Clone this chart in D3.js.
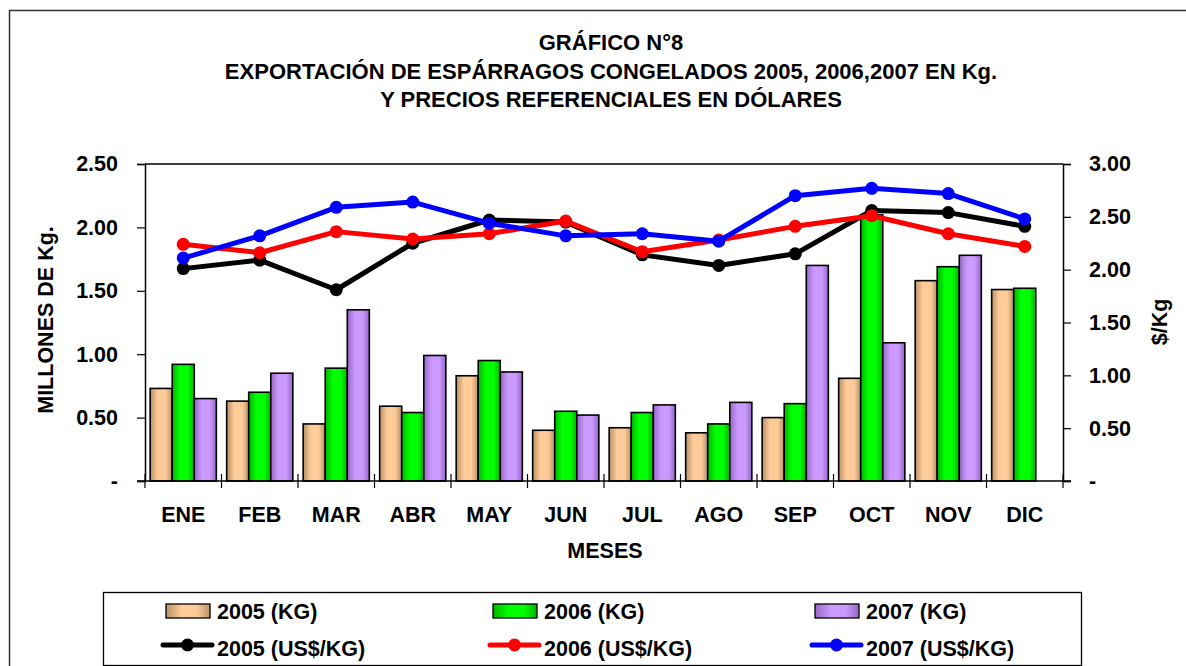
<!DOCTYPE html>
<html>
<head>
<meta charset="utf-8">
<script src="https://cdn.jsdelivr.net/npm/d3@7"></script>
<style>
body { margin: 0; background: #fff; }
text { font-family: "Liberation Sans", Arial, sans-serif; font-weight: bold; fill: #000; }
</style>
</head>
<body>
<svg id="chart"></svg>
<script>
var months = ["ENE","FEB","MAR","ABR","MAY","JUN","JUL","AGO","SEP","OCT","NOV","DIC"];
var kg2005 = [0.73,0.63,0.45,0.59,0.83,0.40,0.42,0.38,0.50,0.81,1.58,1.51];
var kg2006 = [0.92,0.70,0.89,0.54,0.95,0.55,0.54,0.45,0.61,2.10,1.69,1.52];
var kg2007 = [0.65,0.85,1.35,0.99,0.86,0.52,0.60,0.62,1.70,1.09,1.78,null];
var usd2005 = [2.01,2.09,1.81,2.25,2.47,2.45,2.14,2.04,2.15,2.56,2.54,2.41];
var usd2006 = [2.24,2.16,2.36,2.29,2.34,2.46,2.17,2.28,2.41,2.51,2.34,2.22];
var usd2007 = [2.11,2.32,2.59,2.64,2.44,2.32,2.34,2.27,2.70,2.77,2.72,2.48];
var leftTicks = [0,0.5,1,1.5,2,2.5];
var rightTicks = [0,0.5,1,1.5,2,2.5,3];
var titleLines = ["GRÁFICO N°8",
  "EXPORTACIÓN DE ESPÁRRAGOS CONGELADOS 2005, 2006,2007 EN Kg.",
  "Y PRECIOS REFERENCIALES EN DÓLARES"];

var barSeries = [
  {name:"2005 (KG)", values:kg2005, grad:"g2005", dark:"#b89068", light:"#ffcc99"},
  {name:"2006 (KG)", values:kg2006, grad:"g2006", dark:"#00b400", light:"#00ff00"},
  {name:"2007 (KG)", values:kg2007, grad:"g2007", dark:"#9468c4", light:"#cc99ff"}
];
var lineSeries = [
  {name:"2005 (US$/KG)", values:usd2005, color:"#000000"},
  {name:"2006 (US$/KG)", values:usd2006, color:"#ff0000"},
  {name:"2007 (US$/KG)", values:usd2007, color:"#0000ff"}
];

var width = 1186, height = 666;
var pLeft = 145, pRight = 1063, pTop = 164, pBottom = 481;
var fs = "21.5px";

var svg = d3.select("#chart").attr("width", width).attr("height", height);

var defs = svg.append("defs");
barSeries.forEach(function(s){
  var g = defs.append("linearGradient").attr("id", s.grad)
    .attr("x1","0%").attr("x2","100%").attr("y1","0%").attr("y2","0%");
  g.append("stop").attr("offset","0%").attr("stop-color", s.dark);
  g.append("stop").attr("offset","35%").attr("stop-color", s.light);
  g.append("stop").attr("offset","70%").attr("stop-color", s.light);
  g.append("stop").attr("offset","100%").attr("stop-color", s.dark);
});

// outer border
svg.append("rect").attr("x", 9.5).attr("y", 10.5).attr("width", 1300).attr("height", 800)
  .attr("fill","none").attr("stroke","#333").attr("stroke-width",1.5);

// titles
svg.selectAll("text.title").data(titleLines).enter().append("text")
  .attr("class","title")
  .attr("x", 611)
  .attr("y", function(d,i){ return 50 + i*28.5; })
  .attr("text-anchor","middle")
  .style("font-size","22px")
  .text(function(d){ return d; });

var x = d3.scaleBand().domain(months).range([pLeft, pRight]).paddingInner(0.135).paddingOuter(0.0675);
var xc = d3.scaleBand().domain(months).range([pLeft, pRight]);
var xs = d3.scaleBand().domain([0,1,2]).range([0, x.bandwidth()]);
var yL = d3.scaleLinear().domain([0,2.5]).range([pBottom, pTop]);
var yR = d3.scaleLinear().domain([0,3]).range([pBottom, pTop]);

// plot frame top line
svg.append("line").attr("x1", pLeft).attr("x2", pRight).attr("y1", pTop).attr("y2", pTop)
  .attr("stroke","#000").attr("stroke-width",1.5);

// bars
barSeries.forEach(function(s, si){
  var data = s.values.map(function(v,i){ return {m:months[i], v:v}; })
    .filter(function(d){ return d.v != null; });
  svg.selectAll("rect.b"+si).data(data).enter().append("rect")
    .attr("class","b"+si)
    .attr("x", function(d){ return x(d.m) + xs(si); })
    .attr("y", function(d){ return yL(d.v); })
    .attr("width", xs.bandwidth())
    .attr("height", function(d){ return pBottom - yL(d.v); })
    .attr("fill", "url(#"+s.grad+")")
    .attr("stroke","#000").attr("stroke-width",1.6);
});

// axes
var fmt = function(d){ return d === 0 ? "-" : d3.format(".2f")(d); };
var axL = svg.append("g").attr("transform","translate("+pLeft+",0)")
  .call(d3.axisLeft(yL).tickValues(leftTicks).tickFormat(fmt).tickSize(8).tickPadding(19));
var axR = svg.append("g").attr("transform","translate("+pRight+",0)")
  .call(d3.axisRight(yR).tickValues(rightTicks).tickFormat(fmt).tickSize(8).tickPadding(18));
[axL, axR].forEach(function(a){
  a.select(".domain").attr("stroke","#000").attr("stroke-width",1.5);
  a.selectAll(".tick line").attr("stroke","#000").attr("stroke-width",1.2);
  a.selectAll(".tick text").style("font-size",fs).style("font-family","Liberation Sans, Arial, sans-serif").style("font-weight","bold");
});

// x axis with cross ticks at category boundaries
svg.append("line").attr("x1", pLeft - 8).attr("x2", pRight + 8).attr("y1", pBottom).attr("y2", pBottom)
  .attr("stroke","#000").attr("stroke-width",1.5);
var boundaries = months.map(function(m){ return xc(m); }).concat([pRight]);
svg.selectAll("line.xt").data(boundaries).enter().append("line")
  .attr("class","xt")
  .attr("x1", function(d){ return d; }).attr("x2", function(d){ return d; })
  .attr("y1", pBottom - 7).attr("y2", pBottom + 7)
  .attr("stroke","#000").attr("stroke-width",1.2);
svg.selectAll("text.xl").data(months).enter().append("text")
  .attr("class","xl")
  .attr("x", function(d){ return xc(d) + xc.bandwidth()/2; })
  .attr("y", 522)
  .attr("text-anchor","middle")
  .style("font-size",fs)
  .text(function(d){ return d; });

svg.append("text").attr("x", 605).attr("y", 558).attr("text-anchor","middle")
  .style("font-size",fs).text("MESES");
svg.append("text").attr("transform","translate(53,320) rotate(-90)").attr("text-anchor","middle")
  .style("font-size",fs).text("MILLONES DE Kg.");
svg.append("text").attr("transform","translate(1167,322) rotate(-90)").attr("text-anchor","middle")
  .style("font-size",fs).text("$/Kg");

// lines
var line = d3.line()
  .x(function(d,i){ return xc(months[i]) + xc.bandwidth()/2; })
  .y(function(d){ return yR(d); });
lineSeries.forEach(function(s, si){
  svg.append("path").datum(s.values)
    .attr("d", line).attr("fill","none")
    .attr("stroke", s.color).attr("stroke-width",5).attr("stroke-linejoin","round");
  svg.selectAll("circle.c"+si).data(s.values).enter().append("circle")
    .attr("class","c"+si)
    .attr("cx", function(d,i){ return xc(months[i]) + xc.bandwidth()/2; })
    .attr("cy", function(d){ return yR(d); })
    .attr("r", 6.5)
    .attr("fill", s.color);
});

// legend
svg.append("rect").attr("x", 103.5).attr("y", 592.5).attr("width", 978).attr("height", 73)
  .attr("fill","#fff").attr("stroke","#000").attr("stroke-width",1.3);
var legCols = [166, 493, 815];
barSeries.forEach(function(s, i){
  svg.append("rect").attr("x", legCols[i]).attr("y", 604).attr("width", 44).attr("height", 14)
    .attr("fill","url(#"+s.grad+")").attr("stroke","#000").attr("stroke-width",1.3);
  svg.append("text").attr("x", legCols[i] + 51).attr("y", 619)
    .style("font-size",fs).text(s.name);
});
lineSeries.forEach(function(s, i){
  svg.append("line").attr("x1", legCols[i] - 3).attr("x2", legCols[i] + 46)
    .attr("y1", 645).attr("y2", 645)
    .attr("stroke", s.color).attr("stroke-width",5).attr("stroke-linecap","round");
  svg.append("circle").attr("cx", legCols[i] + 21.5).attr("cy", 645).attr("r", 6.5).attr("fill", s.color);
  svg.append("text").attr("x", legCols[i] + 51).attr("y", 656)
    .style("font-size",fs).text(s.name);
});
</script>
</body>
</html>
